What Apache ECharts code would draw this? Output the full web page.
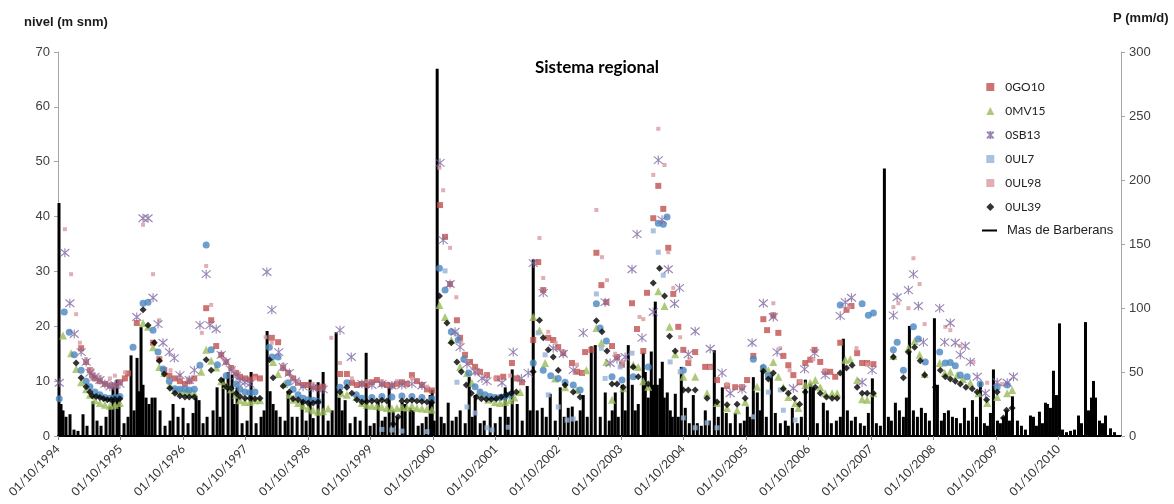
<!DOCTYPE html>
<html><head><meta charset="utf-8">
<script src="https://cdn.jsdelivr.net/npm/echarts@6/dist/echarts.min.js"></script>
<style>html,body{margin:0;padding:0;background:#fff}#c{width:1174px;height:504px}</style>
</head><body><div id="c"></div>
<script>
// x values are decimal years; tick labels at 01/10 of each year
const tickYears = [1994,1995,1996,1997,1998,1999,2000,2001,2002,2003,2004,2005,2006,2007,2008,2009,2010];
const levelTicks = [0,10,20,30,40,50,60,70];
const precipTicks = [0,50,100,150,200,250,300];

const sGO10 = [[1995.12,16],[1995.20,13.5],[1995.26,12],[1995.30,11],[1995.34,10.5],[1995.42,10],[1995.50,9.5],[1995.58,9.2],[1995.66,9.2],[1995.74,9.8],[1995.82,10.5],[1995.87,11.4],[1996.01,20.6],[1996.27,17],[1996.37,14],[1996.45,12],[1996.53,11],[1996.62,10.5],[1996.70,10],[1996.78,9.5],[1996.85,10],[1996.93,10.5],[1997.12,23.3],[1997.20,21.1],[1997.28,16.4],[1997.36,14.8],[1997.44,13.5],[1997.52,12.4],[1997.60,11.5],[1997.66,10.8],[1997.74,10.5],[1997.82,10.3],[1997.90,10.8],[1997.98,10.5],[1998.17,17.9],[1998.27,17.1],[1998.35,12.4],[1998.43,11.5],[1998.51,10.5],[1998.59,9.7],[1998.67,9.3],[1998.75,9.3],[1998.83,8.9],[1998.91,8.7],[1998.99,9],[1999.26,11.3],[1999.37,11.3],[1999.45,9.7],[1999.53,9.3],[1999.61,9.5],[1999.69,9.3],[1999.77,9.8],[1999.85,10.2],[1999.93,9.5],[2000.01,9.3],[2000.09,9.2],[2000.17,9.5],[2000.25,9.8],[2000.33,9.5],[2000.41,11.1],[2000.49,10],[2000.57,9.3],[2000.65,8.5],[2000.73,8.3],[2000.86,42.1],[2000.94,36.3],[2001.02,27.7],[2001.13,21.1],[2001.18,17.9],[2001.26,14.8],[2001.34,13.5],[2001.42,12.6],[2001.50,11.7],[2001.61,11.1],[2001.77,10.5],[2001.87,10.8],[2002.01,13.3],[2002.09,10.5],[2002.17,9.8],[2002.35,17.5],[2002.43,31.7],[2002.51,26.6],[2002.59,17.9],[2002.67,17.5],[2002.75,16.2],[2002.83,15.1],[2002.97,13.3],[2003.05,11.7],[2003.13,11.5],[2003.18,15.3],[2003.28,15.7],[2003.36,33.4],[2003.44,27.5],[2003.52,24.4],[2003.61,16.4],[2003.69,14.4],[2003.77,13],[2003.93,24.2],[2004.01,19.5],[2004.11,15.5],[2004.17,26.1],[2004.27,39.7],[2004.35,45.6],[2004.43,41.4],[2004.51,34.3],[2004.59,25.9],[2004.67,19.9],[2004.75,15.7],[2004.83,13.3],[2004.94,15.3],[2005.10,12.6],[2005.18,12.6],[2005.29,10.2],[2005.45,9.1],[2005.58,8.9],[2005.69,8.9],[2005.77,10.2],[2005.87,14.6],[2006.03,21.3],[2006.09,19.3],[2006.19,22],[2006.27,18.8],[2006.35,14.6],[2006.43,12.9],[2006.51,11.1],[2006.61,9.8],[2006.70,13.3],[2006.78,13.9],[2006.85,15.7],[2006.94,13.5],[2007.02,11.7],[2007.10,11.7],[2007.18,10.8],[2007.26,17],[2007.36,23],[2007.44,23.7],[2007.53,15.1],[2007.61,13.3],[2007.69,13.3],[2007.79,13.1]];

const sMV15 = [[1994.83,18.3],[1994.96,15.1],[1995.04,12.2],[1995.12,9.8],[1995.20,8.5],[1995.26,7.5],[1995.34,6.5],[1995.42,6],[1995.50,5.7],[1995.58,5.5],[1995.66,5.7],[1995.74,6],[1996.11,20.6],[1996.19,19.9],[1996.27,16.2],[1996.37,12.6],[1996.45,11.5],[1996.54,9.3],[1996.62,8.4],[1996.70,8.2],[1996.78,8],[1996.85,8],[1996.93,7.8],[1997.04,11.7],[1997.12,15.7],[1997.20,13.7],[1997.28,12.5],[1997.36,10],[1997.44,9.3],[1997.52,8.5],[1997.60,7.5],[1997.66,6.5],[1997.74,6.2],[1997.82,6.2],[1997.90,6.5],[1997.98,6.5],[1998.19,13.5],[1998.27,11.3],[1998.37,9.5],[1998.45,7.5],[1998.51,6.6],[1998.59,6],[1998.67,5.5],[1998.75,5],[1998.83,4.7],[1998.91,4.4],[1998.99,4.5],[1999.07,5],[1999.28,7.8],[1999.37,7.5],[1999.52,7.1],[1999.61,6],[1999.69,5.7],[1999.77,5.5],[1999.85,5.5],[1999.93,5.3],[2000.01,5.1],[2000.09,5],[2000.17,5.1],[2000.25,5.3],[2000.33,5.2],[2000.41,5.5],[2000.49,5.1],[2000.57,5],[2000.65,4.9],[2000.73,4.8],[2000.85,23.9],[2000.94,21.7],[2001.04,17.5],[2001.18,12.6],[2001.29,11.5],[2001.37,9.7],[2001.50,7.8],[2001.63,6.6],[2001.74,6.2],[2001.82,6],[2001.90,6.2],[2001.98,6.5],[2002.05,7],[2002.14,8],[2002.35,21.7],[2002.45,19.3],[2002.54,13.3],[2002.70,10.5],[2002.86,8.9],[2003.05,8.4],[2003.20,12],[2003.36,19.7],[2003.44,17],[2003.52,13.5],[2003.61,6.6],[2003.79,8.7],[2003.95,13],[2004.03,12.6],[2004.11,10],[2004.19,9],[2004.35,26.4],[2004.45,23.7],[2004.53,19.9],[2004.62,14.9],[2004.75,10.8],[2004.94,10.8],[2005.13,7.8],[2005.29,6],[2005.45,5.1],[2005.61,4.7],[2005.74,6.2],[2005.93,9],[2006.03,12.6],[2006.11,12],[2006.19,13.5],[2006.27,10.8],[2006.35,8.9],[2006.43,7.1],[2006.54,6],[2006.59,5.1],[2006.70,9.3],[2006.78,9.7],[2006.86,10.2],[2006.94,8.9],[2007.02,7.8],[2007.13,7.8],[2007.21,7.8],[2007.34,13.9],[2007.42,14],[2007.53,10.2],[2007.61,6.7],[2007.69,6.6],[2007.79,7.8],[2008.11,14.6],[2008.35,16],[2008.45,17.3],[2008.53,14.8],[2008.61,11.3],[2008.85,13.3],[2008.93,11.5],[2009.02,11.7],[2009.13,11.1],[2009.22,10.4],[2009.34,9.7],[2009.47,7.8],[2009.61,6],[2009.77,7.1],[2009.93,7.8],[2010.01,8.4]];

const sSB13 = [[1994.77,9.7],[1994.86,33.4],[1994.94,24.2],[1995.01,18.6],[1995.12,15.3],[1995.20,13.5],[1995.26,11.5],[1995.34,10.8],[1995.42,10.2],[1995.50,9.5],[1995.58,9],[1995.66,9.3],[1995.74,9.5],[1996.01,21.7],[1996.11,39.7],[1996.19,39.7],[1996.27,25.2],[1996.35,20.4],[1996.43,17],[1996.53,15.3],[1996.61,14.2],[1996.70,11.1],[1996.85,10.2],[1996.93,12],[1997.02,20.2],[1997.12,29.5],[1997.18,20.2],[1997.28,19.5],[1997.36,14.8],[1997.44,13.5],[1997.52,12],[1997.60,11],[1997.66,10],[1997.74,9.8],[1997.82,9.5],[1998.09,29.9],[1998.17,23],[1998.28,15.3],[1998.35,12.6],[1998.45,11.5],[1998.55,10],[1998.67,9],[1998.83,8.8],[1998.99,8.5],[1999.26,19.3],[1999.44,14.4],[1999.61,9.5],[1999.77,9.3],[1999.93,9.5],[2000.09,9.2],[2000.25,9.3],[2000.41,9.5],[2000.57,9.2],[2000.86,49.8],[2000.91,35.7],[2001.02,27.7],[2001.10,19],[2001.18,16.2],[2001.29,13.1],[2001.42,11.7],[2001.53,10.5],[2001.61,10],[2001.85,9.7],[2002.03,15.3],[2002.16,10.5],[2002.27,11.5],[2002.35,31.5],[2002.51,26.1],[2002.67,16],[2002.83,15],[2002.99,12],[2003.15,18.8],[2003.50,24.4],[2003.58,13.3],[2003.69,14],[2003.82,14.4],[2003.93,30.4],[2004.01,36.8],[2004.09,17.9],[2004.27,22.6],[2004.35,50.3],[2004.41,39.4],[2004.51,30.4],[2004.61,24.1],[2004.69,27],[2004.83,14.9],[2004.94,19.1],[2005.18,15.9],[2005.37,11.5],[2005.50,7.8],[2005.69,8.5],[2005.85,17],[2006.03,24.2],[2006.19,21.7],[2006.25,15.3],[2006.51,8.7],[2006.69,12.2],[2006.85,15.1],[2007.02,11.1],[2007.26,21.9],[2007.34,24.4],[2007.44,25.2],[2007.61,9.8],[2007.77,12],[2008.11,22],[2008.17,25.3],[2008.35,26.6],[2008.43,29.5],[2008.51,23.7],[2008.59,17.1],[2008.85,23.3],[2008.93,17.1],[2009.02,20.6],[2009.10,17],[2009.18,14.8],[2009.26,16.4],[2009.34,13.5],[2009.45,10.8],[2009.58,7.8],[2009.77,9.8],[2009.93,9.7],[2010.03,10.8]];

const sUL7 = [[1999.93,1.2],[2000.09,1.1],[2000.25,0.9],[2000.65,0.8],[2000.94,30.1],[2001.12,18.6],[2001.13,9.8],[2001.29,5.3],[2001.42,4.2],[2001.61,1.5],[2001.69,1.1],[2001.95,1.6],[2002.43,18.8],[2002.54,14.8],[2002.59,7.5],[2002.75,5.3],[2002.89,2.9],[2002.99,3.1],[2003.36,25.9],[2003.44,16],[2003.50,10.5],[2003.74,12.6],[2003.93,15.1],[2004.27,37.4],[2004.35,33.5],[2004.43,29.3],[2004.54,13.5],[2004.70,11.7],[2004.75,3.3],[2004.94,1.5],[2005.13,2.4],[2005.29,1.5],[2005.87,3.5],[2006.11,8],[2006.30,8.4],[2006.35,4.7],[2006.54,2.9]];

const sUL98 = [[1994.86,37.7],[1994.96,29.5],[1995.04,22.2],[1995.10,17],[1995.20,14],[1995.30,12],[1995.42,10.8],[1995.58,10.5],[1995.66,11],[1995.82,11.6],[1996.11,38.5],[1996.27,29.5],[1996.37,21.1],[1996.55,12],[1996.70,11],[1996.85,10.5],[1997.05,18.8],[1997.12,31],[1997.20,23.9],[1997.40,14],[1997.56,12],[1997.90,10.5],[1998.07,18],[1998.17,17],[1998.35,13],[1998.59,10],[1998.83,9.5],[1999.12,17.9],[1999.26,13.3],[1999.45,10.5],[1999.69,10],[1999.93,10],[2000.17,10],[2000.41,10.5],[2000.65,9],[2000.85,48.9],[2000.91,44.8],[2001.02,34.3],[2001.12,25.3],[2001.20,17],[2001.30,13.5],[2001.42,11.5],[2001.58,11],[2001.74,10.5],[2001.98,11],[2002.45,36.1],[2002.51,28.8],[2002.59,19],[2002.71,17],[2002.83,15.5],[2003.05,13],[2003.36,41.2],[2003.45,32.6],[2003.53,28.4],[2003.66,15],[2003.79,13.5],[2004.05,21.7],[2004.11,21.3],[2004.27,47.6],[2004.35,56],[2004.45,49.4],[2004.51,33.5],[2004.59,27],[2004.70,18],[2004.85,14],[2005.18,12.5],[2005.45,9.5],[2005.69,9],[2006.19,24.2],[2006.30,16],[2006.45,12],[2006.61,10],[2006.83,14],[2007.02,12],[2007.40,23.5],[2007.52,16],[2007.69,13],[2008.11,23.5],[2008.19,24.2],[2008.35,23.3],[2008.43,32.4],[2008.53,27.7],[2008.61,20.4],[2008.94,19.9],[2009.02,19.3],[2009.18,16.4],[2009.39,13.5],[2009.61,9.7],[2009.85,9.5]];

const sUL39 = [[1995.04,13.3],[1995.12,10.6],[1995.20,9],[1995.26,8],[1995.30,7.3],[1995.36,7.2],[1995.42,7],[1995.48,6.8],[1995.54,6.6],[1995.60,6.6],[1995.66,6.7],[1995.74,6.8],[1996.11,23],[1996.19,20.2],[1996.29,17],[1996.37,13.7],[1996.45,11.3],[1996.54,8.7],[1996.62,7.8],[1996.70,7.3],[1996.78,7.1],[1996.85,7.1],[1996.93,7.1],[1997.12,13.9],[1997.20,12],[1997.36,10.2],[1997.44,9],[1997.52,8.7],[1997.60,7.8],[1997.66,7.2],[1997.74,6.9],[1997.82,6.9],[1997.90,6.8],[1997.98,6.9],[1998.13,13.9],[1998.19,10.6],[1998.35,9.1],[1998.45,8],[1998.51,6.8],[1998.59,6.6],[1998.67,6.2],[1998.75,6],[1998.83,6],[1998.91,6.2],[1999.26,8],[1999.37,8.9],[1999.45,7.8],[1999.53,6.6],[1999.61,6.2],[1999.69,6.3],[1999.77,6.4],[1999.85,6.4],[1999.93,6.5],[2000.01,6.4],[2000.11,2.2],[2000.19,3.5],[2000.25,6.4],[2000.33,6.4],[2000.41,6.5],[2000.49,6.4],[2000.57,6.3],[2000.65,6.2],[2000.73,6.1],[2000.85,25.5],[2000.97,20.6],[2001.04,17],[2001.13,13.5],[2001.20,11.7],[2001.28,9.3],[2001.36,7.8],[2001.44,7.1],[2001.52,6.8],[2001.60,6.7],[2001.68,6.7],[2001.76,6.8],[2001.84,7.1],[2001.92,7.5],[2002.00,7.8],[2002.08,8],[2002.35,11.7],[2002.45,21.1],[2002.51,17.9],[2002.59,15.7],[2002.67,14.4],[2002.75,12],[2002.86,9.3],[2002.99,8],[2003.10,7.1],[2003.36,21],[2003.45,19],[2003.53,15.5],[2003.61,9.5],[2003.69,9.5],[2003.79,8.9],[2003.95,12.6],[2004.03,10.8],[2004.19,9.5],[2004.27,27.9],[2004.37,30.6],[2004.45,25.5],[2004.53,18.2],[2004.62,15.5],[2004.75,8.4],[2004.83,8.4],[2004.94,8.4],[2005.13,6.9],[2005.29,6.2],[2005.45,5.7],[2005.61,5.8],[2005.74,6.9],[2006.03,11.8],[2006.11,10.4],[2006.19,11.5],[2006.35,8.6],[2006.43,7.8],[2006.53,6.9],[2006.61,5.8],[2006.70,8],[2006.86,8.9],[2006.94,7.8],[2007.04,7.1],[2007.13,6.9],[2007.21,6.9],[2007.26,11.5],[2007.36,12.4],[2007.45,12.9],[2007.53,8.9],[2007.61,7.8],[2007.69,7.8],[2007.79,7.8],[2008.11,14.4],[2008.27,10.6],[2008.35,15.3],[2008.45,16.2],[2008.54,13.7],[2008.61,11.1],[2008.78,8.9],[2008.86,12],[2008.94,10.8],[2009.02,10.4],[2009.10,10],[2009.18,9.5],[2009.27,8.9],[2009.37,8.6],[2009.45,8],[2009.60,6.6],[2009.77,8],[2009.87,3.3],[2009.92,4.7],[2010.01,5.1]];

const sCircles = [[1994.77,6.8],[1994.85,22.6],[1994.93,18.9],[1995.01,14.8],[1995.12,12],[1995.20,10],[1995.26,9],[1995.34,8],[1995.42,7.5],[1995.50,7],[1995.58,6.9],[1995.66,7],[1995.74,7.2],[1995.95,16.2],[1996.11,24.2],[1996.19,24.4],[1996.27,19.3],[1996.35,15.3],[1996.43,12.2],[1996.53,10],[1996.62,8.6],[1996.70,8.5],[1996.78,8.5],[1996.85,8.4],[1996.93,8.5],[1997.02,12.9],[1997.12,34.8],[1997.20,15.7],[1997.30,13],[1997.44,11],[1997.60,9.5],[1997.66,8.5],[1997.74,8],[1997.82,7.9],[1997.90,8],[1998.13,16.2],[1998.17,14.4],[1998.27,14.4],[1998.43,9.7],[1998.51,8.5],[1998.59,7.5],[1998.67,6.9],[1998.75,6.6],[1998.83,6.5],[1998.91,6.3],[1999.26,8.9],[1999.37,9.7],[1999.52,7.5],[1999.61,6.9],[1999.77,7],[1999.93,7.2],[2000.09,7.1],[2000.25,7.3],[2000.41,7.2],[2000.57,7],[2000.73,6.8],[2000.85,30.6],[2000.94,26.6],[2001.04,19],[2001.15,17.5],[2001.24,14],[2001.32,11.5],[2001.42,9],[2001.50,8],[2001.58,7.5],[2001.66,7.2],[2001.74,7],[2001.82,7],[2001.90,7.2],[2001.98,7.5],[2002.35,13.3],[2002.51,12],[2002.63,11],[2002.75,10.5],[2002.86,9.8],[2002.99,9.3],[2003.10,8.4],[2003.36,24.1],[2003.42,19.7],[2003.52,17.3],[2003.61,10.8],[2003.77,10.2],[2003.95,10.8],[2004.19,12.6],[2004.35,38.8],[2004.43,38.6],[2004.49,39.9],[2004.75,12],[2005.87,14],[2006.03,12.5],[2006.11,11],[2007.26,23.9],[2007.61,24.1],[2007.71,22],[2007.79,22.4],[2008.11,15.7],[2008.17,17.1],[2008.27,12],[2008.43,19.9],[2008.51,17.7],[2008.62,13.5],[2008.85,15.3],[2008.94,13.3],[2009.02,13.4],[2009.10,12.8],[2009.18,11.1],[2009.29,10.8],[2009.50,9.5],[2009.77,8.9],[2009.93,9.3]];

const precip = [[1994.766,182],[1994.798,25],[1994.830,20],[1994.878,15],[1994.942,17],[1995.006,5],[1995.070,4],[1995.150,17],[1995.214,8],[1995.310,27],[1995.374,12],[1995.438,8],[1995.518,15],[1995.582,23],[1995.630,38],[1995.694,44],[1995.726,30],[1995.806,10],[1995.870,15],[1995.918,63],[1995.966,20],[1996.014,61],[1996.046,35],[1996.078,85],[1996.110,40],[1996.158,30],[1996.206,25],[1996.254,30],[1996.302,30],[1996.382,20],[1996.462,8],[1996.542,12],[1996.590,25],[1996.670,15],[1996.750,22],[1996.830,10],[1996.910,18],[1996.958,30],[1997.006,28],[1997.070,10],[1997.134,15],[1997.230,20],[1997.294,38],[1997.342,15],[1997.390,45],[1997.470,50],[1997.534,48],[1997.566,25],[1997.614,38],[1997.694,10],[1997.774,12],[1997.838,50],[1997.918,10],[1997.998,15],[1998.046,20],[1998.094,82],[1998.142,35],[1998.190,25],[1998.238,20],[1998.302,15],[1998.382,12],[1998.430,35],[1998.494,15],[1998.574,15],[1998.654,28],[1998.718,12],[1998.782,44],[1998.830,14],[1998.910,42],[1998.990,50],[1999.070,12],[1999.134,20],[1999.198,81],[1999.246,30],[1999.294,20],[1999.342,28],[1999.422,10],[1999.502,15],[1999.582,12],[1999.678,65],[1999.742,8],[1999.806,10],[1999.870,27],[1999.934,12],[1999.982,15],[2000.046,38],[2000.110,20],[2000.174,15],[2000.254,26],[2000.302,25],[2000.382,22],[2000.430,20],[2000.510,8],[2000.574,10],[2000.638,15],[2000.702,32],[2000.734,36],[2000.766,12],[2000.814,287],[2000.878,15],[2000.926,10],[2000.990,26],[2001.054,12],[2001.118,15],[2001.182,20],[2001.262,10],[2001.326,46],[2001.374,15],[2001.422,32],[2001.502,10],[2001.566,12],[2001.662,22],[2001.742,10],[2001.822,15],[2001.902,38],[2001.950,15],[2002.014,52],[2002.094,25],[2002.174,12],[2002.254,39],[2002.302,20],[2002.350,138],[2002.414,20],[2002.494,22],[2002.558,15],[2002.622,33],[2002.702,12],[2002.782,38],[2002.846,15],[2002.910,22],[2002.974,23],[2003.038,12],[2003.102,20],[2003.150,32],[2003.214,15],[2003.278,70],[2003.342,71],[2003.422,15],[2003.502,34],[2003.566,12],[2003.614,20],[2003.662,34],[2003.710,15],[2003.774,40],[2003.822,20],[2003.870,71],[2003.934,40],[2003.982,20],[2004.030,25],[2004.110,65],[2004.142,50],[2004.190,30],[2004.238,66],[2004.270,40],[2004.302,105],[2004.334,40],[2004.382,45],[2004.414,58],[2004.446,30],[2004.494,34],[2004.542,20],[2004.574,15],[2004.622,33],[2004.670,15],[2004.718,54],[2004.782,22],[2004.846,10],[2004.910,32],[2004.974,10],[2005.038,8],[2005.102,20],[2005.166,12],[2005.246,67],[2005.310,15],[2005.374,38],[2005.438,18],[2005.502,10],[2005.582,18],[2005.662,10],[2005.726,12],[2005.774,23],[2005.822,15],[2005.870,46],[2005.934,34],[2005.982,20],[2006.014,55],[2006.078,15],[2006.158,48],[2006.222,18],[2006.302,10],[2006.382,12],[2006.430,8],[2006.494,22],[2006.574,10],[2006.638,15],[2006.702,44],[2006.782,41],[2006.830,38],[2006.894,10],[2006.990,26],[2007.054,20],[2007.118,10],[2007.198,12],[2007.262,15],[2007.310,76],[2007.374,20],[2007.438,12],[2007.502,15],[2007.582,10],[2007.646,8],[2007.710,18],[2007.774,45],[2007.838,10],[2007.902,8],[2007.966,209],[2008.030,15],[2008.078,12],[2008.142,26],[2008.206,20],[2008.270,15],[2008.318,30],[2008.366,86],[2008.430,20],[2008.494,15],[2008.558,22],[2008.622,18],[2008.686,12],[2008.766,92],[2008.814,40],[2008.878,12],[2008.926,18],[2008.990,20],[2009.054,15],[2009.118,14],[2009.182,10],[2009.246,22],[2009.310,12],[2009.374,28],[2009.438,15],[2009.502,42],[2009.566,10],[2009.614,8],[2009.662,18],[2009.710,52],[2009.774,12],[2009.822,10],[2009.870,15],[2009.918,20],[2009.966,12],[2010.014,31],[2010.094,12],[2010.158,8],[2010.222,5],[2010.302,16],[2010.350,15],[2010.398,8],[2010.446,19],[2010.494,10],[2010.542,26],[2010.574,25],[2010.622,22],[2010.670,51],[2010.718,32],[2010.766,88],[2010.814,5],[2010.878,3],[2010.942,4],[2011.006,5],[2011.070,16],[2011.118,10],[2011.182,89],[2011.230,20],[2011.278,30],[2011.310,43],[2011.342,30],[2011.406,12],[2011.454,10],[2011.502,16],[2011.582,6],[2011.646,3]];

const tickVals = tickYears.map(y => y + 0.75);
const starPath = 'path://M0,1L10,11M0,11L10,1M5,0L5,12';
const chart = echarts.init(document.getElementById('c'), null, {renderer: 'canvas'});
const axisText = {fontFamily: 'Liberation Sans', fontSize: 13, color: '#404040'};
chart.setOption({
  animation: false,
  backgroundColor: '#fff',
  grid: {left: 58, right: 53, top: 52, bottom: 68, containLabel: false},
  graphic: [
    {type: 'text', left: 24, top: 16, style: {text: 'nivel (m snm)', font: 'bold 13px "Liberation Sans"', fill: '#1a1a1a'}},
    {type: 'text', left: 1113, top: 12, style: {text: 'P (mm/d)', font: 'bold 13px "Liberation Sans"', fill: '#1a1a1a'}},
    {type: 'text', x: 597, y: 68, style: {text: 'Sistema regional', font: 'bold 17px Lato', fill: '#000', align: 'center', verticalAlign: 'middle'}}
  ],
  legend: [
    {data: ['0GO10','0MV15','0SB13','0UL7','0UL98','0UL39'], orient: 'vertical', left: 981, top: 76,
     itemWidth: 8, itemHeight: 8, itemGap: 12,
     textStyle: {fontFamily: 'Lato', fontSize: 12, color: '#222', padding: [0, 0, 0, 6]}},
    {data: ['Mas de Barberans'], orient: 'vertical', left: 977, top: 219, icon: 'rect',
     itemWidth: 15, itemHeight: 2, textStyle: {fontFamily: 'Liberation Sans', fontSize: 13, color: '#222', padding: [0, 0, 0, 5]}}
  ],
  xAxis: {
    type: 'value', min: 1994.75, max: 2011.75, splitLine: {show: false},
    axisLine: {show: true, lineStyle: {color: '#000', width: 2}},
    axisTick: {show: true, customValues: tickVals, length: 4, lineStyle: {color: '#888'}},
    axisLabel: {customValues: tickVals, rotate: 45, margin: 11, fontFamily: 'Lato', fontSize: 12, color: '#333',
      formatter: v => '01/10/' + Math.round(v - 0.75)}
  },
  yAxis: [
    {type: 'value', min: 0, max: 70, interval: 10, position: 'left', splitLine: {show: false},
     axisLine: {show: true, lineStyle: {color: '#A6A6A6'}}, axisTick: {show: true, length: 4, lineStyle: {color: '#A6A6A6'}},
     axisLabel: Object.assign({margin: 8}, axisText)},
    {type: 'value', min: 0, max: 300, interval: 50, position: 'right', splitLine: {show: false},
     axisLine: {show: true, lineStyle: {color: '#A6A6A6'}}, axisTick: {show: true, length: 4, lineStyle: {color: '#A6A6A6'}},
     axisLabel: Object.assign({margin: 8}, axisText)}
  ],
  series: [
    {name: '0GO10', type: 'scatter', data: sGO10, symbol: 'rect', symbolSize: 6, itemStyle: {color: '#C0504D'}},
    {name: '0MV15', type: 'scatter', data: sMV15, symbol: 'triangle', symbolSize: 8, itemStyle: {color: '#9BBB59'}},
    {name: 'circulos', type: 'scatter', data: sCircles, symbol: 'circle', symbolSize: 7, itemStyle: {color: '#4A86C0'}},
    {name: '0UL7', type: 'scatter', data: sUL7, symbol: 'rect', symbolSize: 5, itemStyle: {color: '#95B3D7'}},
    {name: '0UL98', type: 'scatter', data: sUL98, symbol: 'rect', symbolSize: 4, itemStyle: {color: '#DA9AA0'}},
    {name: '0SB13', type: 'scatter', data: sSB13, symbol: starPath, symbolSize: 9,
     itemStyle: {color: 'rgba(0,0,0,0)', borderColor: '#7E67A0', borderWidth: 1.1}},
    {name: '0UL39', type: 'scatter', data: sUL39, symbol: 'diamond', symbolSize: 7, itemStyle: {color: '#000'}},
    {name: 'Mas de Barberans', type: 'bar', yAxisIndex: 1, data: precip, barWidth: 3, itemStyle: {color: '#000'}}
  ]
});
</script>
</body></html>
